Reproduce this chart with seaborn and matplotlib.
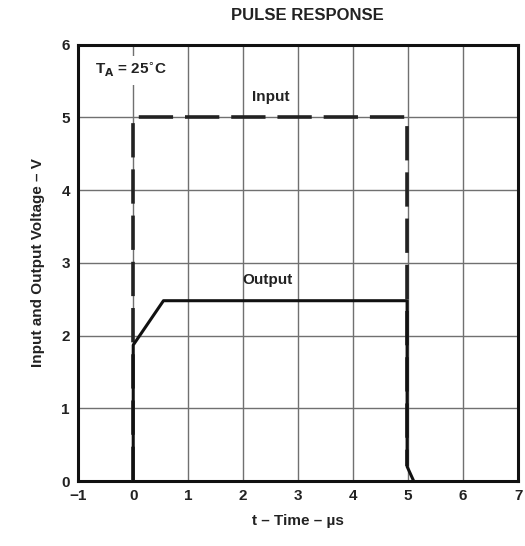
import matplotlib
matplotlib.use("Agg")
import matplotlib.pyplot as plt
import pandas as pd
import seaborn as sns

# pulse waveforms (time in us, volts)
input_t = [0, 0, 4.98, 4.98]
input_v = [0, 5.0, 5.0, 0.2]
output_t = [0, 0, 0.55, 4.98, 4.98, 5.1]
output_v = [0, 1.87, 2.48, 2.48, 0.2, 0.0]

x_ticks = [-1, 0, 1, 2, 3, 4, 5, 6, 7]
y_ticks = [0, 1, 2, 3, 4, 5, 6]

sns.set_theme(style="white")
plt.rcParams["font.family"] = ["Liberation Sans", "DejaVu Sans"]

fig = plt.figure(figsize=(5.25, 5.46), dpi=100)
ax = fig.add_axes([0.149, 0.119, 0.838, 0.799])

df_in = pd.DataFrame({"t": input_t, "v": input_v})
df_out = pd.DataFrame({"t": output_t, "v": output_v})

# estimator=None keeps the vertical edges (repeated t values) as drawn
sns.lineplot(data=df_in, x="t", y="v", sort=False, estimator=None, ax=ax,
             color="#222222", lw=2.6, linestyle=(0, (9.5, 3.3)), zorder=3)
sns.lineplot(data=df_out, x="t", y="v", sort=False, estimator=None, ax=ax,
             color="#111111", lw=2.2, zorder=4)

ax.set_xlim(-1, 7)
ax.set_ylim(0, 6)
ax.set_xticks(x_ticks)
ax.set_yticks(y_ticks)
ax.set_xticklabels(["\u22121"] + [str(t) for t in x_ticks[1:]])
ax.grid(True, color="#707070", lw=1.0)
ax.tick_params(axis="both", labelsize=11, length=0, pad=6)
for lbl in ax.get_xticklabels() + ax.get_yticklabels():
    lbl.set_fontweight("bold")
    lbl.set_color("#222222")
for s in ax.spines.values():
    s.set_color("#111111")
    s.set_linewidth(2.2)

ax.text(2.5, 5.28, "Input", ha="center", va="center", fontsize=11,
        fontweight="bold", color="#222222")
ax.text(2.45, 2.76, "Output", ha="center", va="center", fontsize=11,
        fontweight="bold", color="#222222")
ax.text(-0.7, 5.65, r"T$_\mathbf{A}$ = 25$\!^\circ\!$C", ha="left", va="center",
        fontsize=11, fontweight="bold", color="#222222", zorder=5,
        bbox=dict(facecolor="white", edgecolor="none", pad=4))

ax.set_xlabel("t \u2013 Time \u2013 \u00b5s", fontsize=11, fontweight="bold",
              color="#222222", labelpad=8)
ax.set_ylabel("Input and Output Voltage \u2013 V", fontsize=11,
              fontweight="bold", color="#222222", labelpad=12)
fig.suptitle("PULSE RESPONSE", x=0.585, y=0.985, fontsize=12,
             fontweight="bold", color="#222222")

fig.savefig("out.png", dpi=100)
plt.close(fig)
